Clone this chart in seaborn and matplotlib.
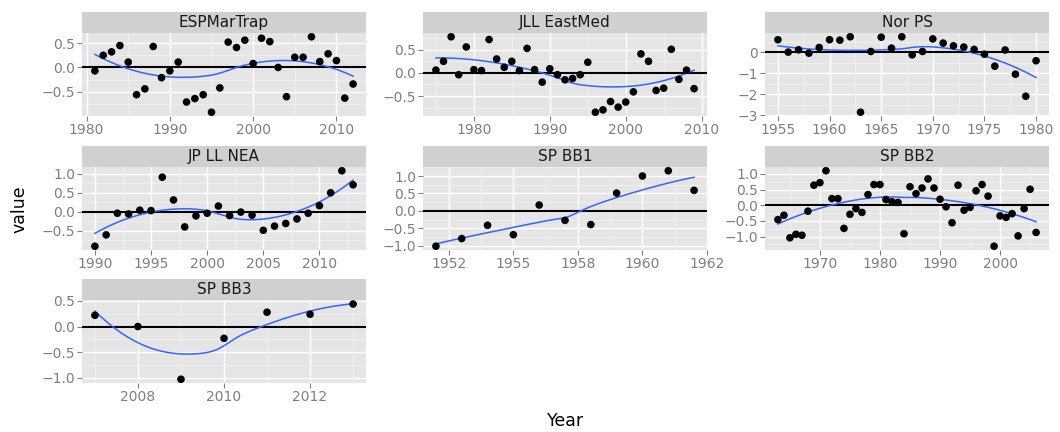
import numpy as np
import pandas as pd
import seaborn as sns
import matplotlib
matplotlib.use('Agg')
import matplotlib.pyplot as plt
from matplotlib.patches import Rectangle
from matplotlib.ticker import AutoMinorLocator, FixedLocator

# Series (one value per year)
esp_years = np.arange(1981, 2013)
esp_vals = [-0.07, 0.25, 0.32, 0.45, 0.11, -0.56, -0.44, 0.43, -0.21, -0.07,
            0.11, -0.71, -0.64, -0.56, -0.92, -0.42, 0.52, 0.41, 0.56, 0.08,
            0.60, 0.53, 0.00, -0.60, 0.21, 0.21, 0.63, 0.12, 0.28, 0.14,
            -0.63, -0.34]
jll_years = np.arange(1975, 2010)
jll_vals = [0.06, 0.25, 0.78, -0.04, 0.56, 0.07, 0.05, 0.72, 0.30, 0.12,
            0.25, 0.05, 0.53, 0.07, -0.20, 0.09, -0.04, -0.15, -0.12, -0.04,
            0.23, -0.85, -0.80, -0.62, -0.74, -0.63, -0.41, 0.41, 0.25, -0.38,
            -0.33, 0.51, -0.14, 0.06, -0.34]
nor_years = np.arange(1955, 1981)
nor_vals = [0.59, 0.00, 0.11, -0.05, 0.22, 0.59, 0.57, 0.73, -2.86, 0.03,
            0.71, 0.19, 0.73, -0.13, 0.03, 0.63, 0.43, 0.30, 0.24, 0.13,
            -0.10, -0.67, 0.10, -1.05, -2.10, -0.41]
jp_years = np.arange(1990, 2014)
jp_vals = [-0.91, -0.61, -0.04, -0.06, 0.04, 0.03, 0.91, 0.31, -0.40, -0.11,
           -0.04, 0.15, -0.10, -0.01, -0.09, -0.49, -0.38, -0.31, -0.19, -0.04,
           0.16, 0.50, 1.08, 0.71]
bb1_years = np.arange(1952, 1963)
bb1_vals = [-1.01, -0.79, -0.41, -0.68, 0.17, -0.27, -0.39, 0.51, 1.00, 1.15, 0.59]
bb2_years = np.arange(1963, 2007)
bb2_vals = [-0.46, -0.32, -1.04, -0.93, -0.96, -0.19, 0.64, 0.72, 1.10, 0.21,
            0.21, -0.74, -0.29, -0.11, -0.23, 0.34, 0.66, 0.66, 0.18, 0.11,
            0.09, -0.91, 0.59, 0.37, 0.55, 0.84, 0.55, 0.19, -0.05, -0.56,
            0.64, -0.16, -0.07, 0.46, 0.66, 0.29, -1.31, -0.34, -0.39, -0.27,
            -0.98, -0.11, 0.51, -0.87]
bb3_years = np.arange(2007, 2014)
bb3_vals = [0.22, 0.00, -1.03, -0.23, 0.28, 0.24, 0.44]

panels = ['ESPMarTrap', 'JLL EastMed', 'Nor PS', 'JP LL NEA', 'SP BB1', 'SP BB2', 'SP BB3']
series = [(esp_years, esp_vals), (jll_years, jll_vals), (nor_years, nor_vals),
          (jp_years, jp_vals), (bb1_years, bb1_vals), (bb2_years, bb2_vals),
          (bb3_years, bb3_vals)]

# tick breaks per panel
x_breaks = {
    'ESPMarTrap': ([1980, 1990, 2000, 2010], None),
    'JLL EastMed': ([1980, 1990, 2000, 2010], None),
    'Nor PS': ([1955, 1960, 1965, 1970, 1975, 1980], None),
    'JP LL NEA': ([1990, 1995, 2000, 2005, 2010], None),
    'SP BB1': ([1952.5, 1955, 1957.5, 1960, 1962.5], ['1952', '1955', '1958', '1960', '1962']),
    'SP BB2': ([1970, 1980, 1990, 2000], None),
    'SP BB3': ([2008, 2010, 2012], None),
}
y_breaks = {
    'ESPMarTrap': [-0.5, 0.0, 0.5],
    'JLL EastMed': [-0.5, 0.0, 0.5],
    'Nor PS': [-3, -2, -1, 0],
    'JP LL NEA': [-0.5, 0.0, 0.5, 1.0],
    'SP BB1': [-1.0, -0.5, 0.0, 0.5, 1.0],
    'SP BB2': [-1.0, -0.5, 0.0, 0.5, 1.0],
    'SP BB3': [-1.0, -0.5, 0.0, 0.5],
}

df = pd.concat([pd.DataFrame({'series': p, 'year': yr, 'value': v})
                for p, (yr, v) in zip(panels, series)], ignore_index=True)


# local quadratic smoother with tricube weights (loess-style)
def loess(x, y, span=1.0, n_out=80):
    x = np.asarray(x, float)
    y = np.asarray(y, float)
    n = len(x)
    grid = np.linspace(x.min(), x.max(), n_out)
    fit = []
    for x0 in grid:
        d = np.abs(x - x0)
        if span < 1:
            h = np.sort(d)[int(np.floor(n * span)) - 1]
        else:
            h = d.max() * span
        w = np.clip(1 - (d / h) ** 3, 0, None) ** 3
        X = np.column_stack([np.ones_like(x), x - x0, (x - x0) ** 2])
        sw = np.sqrt(w)
        beta = np.linalg.lstsq(X * sw[:, None], y * sw, rcond=None)[0]
        fit.append(beta[0])
    return grid, np.array(fit)


fits = []
for p, (yr, v) in zip(panels, series):
    gx, gy = loess(yr, v)
    fits.append(pd.DataFrame({'series': p, 'year': gx, 'fit': gy}))
fit_df = pd.concat(fits, ignore_index=True)

plt.rcParams['font.family'] = ['DejaVu Sans']

g = sns.FacetGrid(df, col='series', col_order=panels, col_wrap=3,
                  sharex=False, sharey=False, height=2, aspect=2)
g.map_dataframe(sns.scatterplot, x='year', y='value', color='black', s=30,
                edgecolor='none', zorder=4)

fig = g.figure
fig.set_size_inches(10.6, 4.32)
W, H = 1060.0, 432.0
col_left = [82, 423, 765]
row_top = [33, 167, 300]
pw, ph, strip_h = 284, 83, 21

for i, (ax, p) in enumerate(zip(g.axes.flat, panels)):
    r, c = divmod(i, 3)
    ax.set_position([col_left[c] / W, 1 - (row_top[r] + ph) / H, pw / W, ph / H])
    sub = fit_df[fit_df['series'] == p]
    sns.lineplot(data=sub, x='year', y='fit', ax=ax, color='#3366FF', lw=1.1, zorder=3)
    ax.axhline(0, color='black', lw=1.5, zorder=2)

    xl, yl = ax.get_xlim(), ax.get_ylim()
    xt, xlab = x_breaks[p]
    ax.xaxis.set_major_locator(FixedLocator(xt))
    ax.set_xticklabels(xlab if xlab else [str(int(t)) for t in xt])
    yt = y_breaks[p]
    ax.yaxis.set_major_locator(FixedLocator(yt))
    if p == 'Nor PS':
        ax.set_yticklabels(['\u2212%d' % -t if t < 0 else '%d' % t for t in yt])
    else:
        ax.set_yticklabels([('%.1f' % t).replace('-', '\u2212') for t in yt])
    ax.set_xlim(xl)
    ax.set_ylim(yl)
    ax.xaxis.set_minor_locator(AutoMinorLocator(2))
    ax.yaxis.set_minor_locator(AutoMinorLocator(2))

    ax.set_facecolor('#E5E5E5')
    ax.grid(which='major', color='white', lw=1.0)
    ax.grid(which='minor', color='#F2F2F2', lw=0.5)
    ax.set_axisbelow(True)
    for s in ax.spines.values():
        s.set_visible(False)
    ax.tick_params(which='major', length=3.5, width=0.8, color='#7F7F7F',
                   labelcolor='#7F7F7F', labelsize=10, pad=1.5)
    ax.tick_params(which='minor', length=0)
    ax.set_title('')
    ax.set_xlabel('')
    ax.set_ylabel('')

    # facet strip
    ax.add_patch(Rectangle((0, 1), 1, strip_h / ph, transform=ax.transAxes,
                           facecolor='#D0D0D0', edgecolor='none', clip_on=False))
    ax.text(0.5, 1 + strip_h / ph / 2, p, transform=ax.transAxes, ha='center',
            va='center', fontsize=11, color='#1A1A1A')

fig.text(566 / W, 1 - 421 / H, 'Year', ha='center', va='center', fontsize=12.5)
fig.text(19 / W, 1 - 209 / H, 'value', ha='center', va='center', fontsize=12.5,
         rotation=90)

fig.savefig('out.png', dpi=100)
